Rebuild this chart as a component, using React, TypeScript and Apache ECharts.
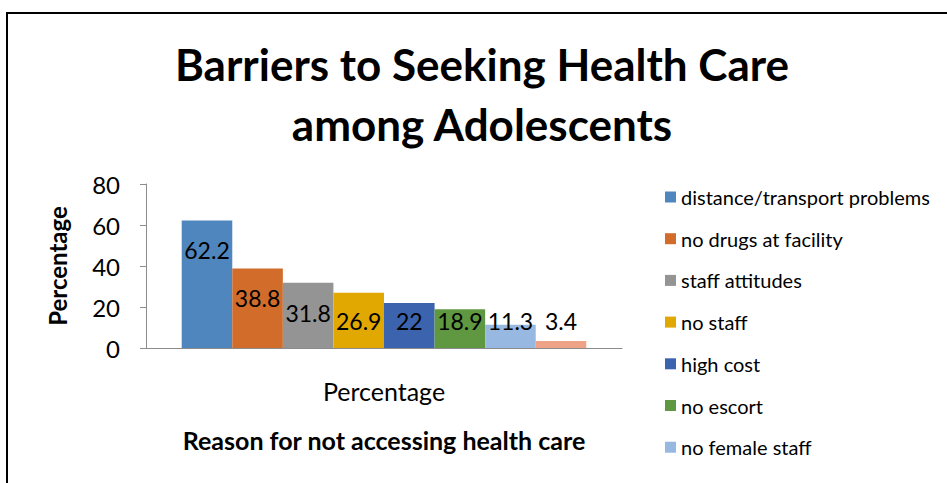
import React, { useEffect, useRef } from "react";
import * as echarts from "echarts";

const categories = ["Percentage"];
const seriesNames = [
  "distance/transport problems",
  "no drugs at facility",
  "staff attitudes",
  "no staff",
  "high cost",
  "no escort",
  "no female staff",
  "other",
];
const seriesValues = [62.2, 38.8, 31.8, 26.9, 22, 18.9, 11.3, 3.4];
const seriesColors = [
  "#4F86BE",
  "#D26C2B",
  "#949494",
  "#E0A800",
  "#3C63AE",
  "#5F9840",
  "#97B8E0",
  "#EFA386",
];
const legendVisible = seriesNames.slice(0, 7);
const yTicks = [0, 20, 40, 60, 80];

const FONT = "Lato, 'Open Sans', sans-serif";

export default function App() {
  const ref = useRef<HTMLDivElement>(null);
  useEffect(() => {
    if (!ref.current) return;
    const chart = echarts.init(ref.current, null, { renderer: "svg" });
    chart.setOption({
      animation: false,
      backgroundColor: "#ffffff",
      textStyle: { fontFamily: FONT },
      title: {
        text: "Barriers to Seeking Health Care\namong Adolescents",
        left: 477,
        top: 29,
        textAlign: "center",
        textStyle: {
          fontFamily: FONT,
          fontSize: 44,
          fontWeight: "bold",
          color: "#000",
          lineHeight: 60,
        },
      },
      graphic: [
        {
          type: "rect",
          z: 100,
          shape: { x: 6, y: 12, width: 941, height: 2 },
          style: { fill: "#000" },
          silent: true,
        },
        {
          type: "rect",
          z: 100,
          shape: { x: 6, y: 12, width: 2, height: 471 },
          style: { fill: "#000" },
          silent: true,
        },
      ],
      legend: {
        orient: "vertical",
        left: 660,
        top: 182,
        itemWidth: 11,
        itemHeight: 11,
        itemGap: 21.7,
        icon: "rect",
        data: legendVisible,
        textStyle: {
          fontFamily: FONT,
          fontSize: 20,
          color: "#000",
          lineHeight: 20,
        },
      },
      grid: { left: 146, right: 325, top: 184, bottom: 135, containLabel: false },
      xAxis: {
        type: "category",
        data: categories,
        name: "Reason for not accessing health care",
        nameLocation: "middle",
        nameGap: 79,
        nameTextStyle: {
          fontFamily: FONT,
          fontSize: 25,
          fontWeight: "bold",
          color: "#000",
          verticalAlign: "top",
        },
        axisLine: { show: true, lineStyle: { color: "#8c8c8c", width: 1 } },
        axisTick: { show: false },
        axisLabel: { fontFamily: FONT, fontSize: 25, color: "#000", margin: 30 },
      },
      yAxis: {
        type: "value",
        min: yTicks[0],
        max: yTicks[yTicks.length - 1],
        interval: 20,
        name: "Percentage",
        nameLocation: "middle",
        nameRotate: 90,
        nameGap: 89,
        nameTextStyle: {
          fontFamily: FONT,
          fontSize: 24,
          fontWeight: "bold",
          color: "#000",
          verticalAlign: "middle",
        },
        axisLine: { show: true, lineStyle: { color: "#8c8c8c", width: 1 } },
        axisTick: { show: true, length: 6, lineStyle: { color: "#8c8c8c" } },
        splitLine: { show: false },
        axisLabel: { fontFamily: FONT, fontSize: 24, color: "#000", margin: 26 },
      },
      series: seriesNames.map((name, i) => ({
        name,
        type: "bar",
        data: [seriesValues[i]],
        barGap: "0%",
        barCategoryGap: "15%",
        itemStyle: { color: seriesColors[i] },
        label: {
          show: true,
          position: "inside",
          formatter: "{c}",
          fontFamily: FONT,
          fontSize: 23,
          color: "#000",
        },
        labelLayout: (params: any) => {
          const r = params.rect;
          return {
            x: r.x + r.width / 2,
            y: Math.min(r.y + 30, r.y + r.height - 27),
            align: "center",
            verticalAlign: "middle",
          };
        },
      })),
    });
    return () => chart.dispose();
  }, []);
  return (
    <div
      ref={ref}
      style={{ width: 947, height: 483, position: "fixed", left: 0, top: 0 }}
    />
  );
}
